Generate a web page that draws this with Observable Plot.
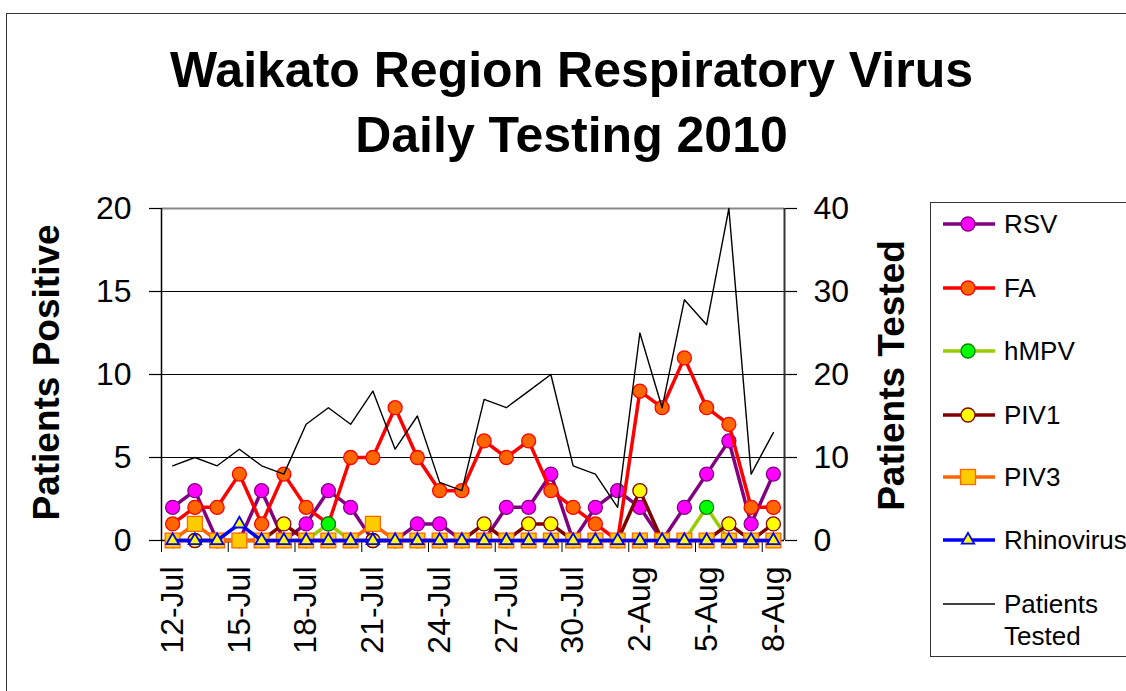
<!DOCTYPE html>
<html>
<head>
<meta charset="utf-8">
<script src="https://cdn.jsdelivr.net/npm/d3@7"></script>
<script src="https://cdn.jsdelivr.net/npm/@observablehq/plot@0.6"></script>
<style>
  html, body { margin: 0; padding: 0; background: #fff; overflow: hidden; }
  #wrap { position: relative; width: 1126px; height: 691px; overflow: hidden;
          font-family: "Liberation Sans", Arial, sans-serif; color: #000; }
  #frame { position: absolute; left: 6px; top: 13px; width: 1300px; height: 900px;
           border: 1.5px solid #333; box-sizing: border-box; }
  #title { position: absolute; left: 0; top: 38px; width: 1143px; text-align: center;
           font-weight: bold; font-size: 50px; line-height: 65px; }
  #chart { position: absolute; left: 0; top: 0; }
  #legend { position: absolute; left: 930px; top: 202px; width: 260px; height: 455px;
            border: 1px solid #333; box-sizing: border-box; background: #fff; }
  #legend svg { position: absolute; left: -1px; top: -1px; overflow: visible; }
</style>
</head>
<body>
<div id="wrap">
  <div id="frame"></div>
  <div id="title">Waikato Region Respiratory Virus<br>Daily Testing 2010</div>
  <div id="chart"></div>
  <div id="legend"></div>
</div>
<script>
// ---- data ----
const days = ["12-Jul","13-Jul","14-Jul","15-Jul","16-Jul","17-Jul","18-Jul","19-Jul","20-Jul","21-Jul",
              "22-Jul","23-Jul","24-Jul","25-Jul","26-Jul","27-Jul","28-Jul","29-Jul","30-Jul","31-Jul",
              "1-Aug","2-Aug","3-Aug","4-Aug","5-Aug","6-Aug","7-Aug","8-Aug"];
const labelDays = ["12-Jul","15-Jul","18-Jul","21-Jul","24-Jul","27-Jul","30-Jul","2-Aug","5-Aug","8-Aug"];
const seriesNames = ["RSV","FA","hMPV","PIV1","PIV3","Rhinovirus"];
const rsv   = [2,3,0,0,3,0,1,3,2,0,0,1,1,0,0,2,2,4,0,2,3,2,0,2,4,6,1,4];
const fa    = [1,2,2,4,1,4,2,1,5,5,8,5,3,3,6,5,6,3,2,1,0,9,8,11,8,7,2,2];
const hmpv  = [0,0,0,0,0,0,0,1,0,0,0,0,0,0,0,0,0,0,0,0,0,0,0,0,2,0,0,0];
const piv1  = [0,0,0,0,0,1,0,0,0,0,0,0,0,0,1,0,1,1,0,0,0,3,0,0,0,1,0,1];
const piv3  = [0,1,0,0,0,0,0,0,0,1,0,0,0,0,0,0,0,0,0,0,0,0,0,0,0,0,0,0];
const rhino = [0,0,0,1,0,0,0,0,0,0,0,0,0,0,0,0,0,0,0,0,0,0,0,0,0,0,0,0];
const tested = [9,10,9,11,9,8,14,16,14,18,11,15,7,6,17,16,18,20,9,8,4,25,16,29,26,40,8,13];
const leftTicks = [0,5,10,15,20];
const testedName = "Patients Tested";

// ---- styles ----
const styles = [
  {line: "#800080", fill: "#FF00FF", stroke: "#800080", symbol: "circle", r: 7},
  {line: "#FF0000", fill: "#FF6600", stroke: "#FF0000", symbol: "circle", r: 7},
  {line: "#99CC00", fill: "#00FF00", stroke: "#008000", symbol: "circle", r: 7},
  {line: "#800000", fill: "#FFFF00", stroke: "#800000", symbol: "circle", r: 7},
  {line: "#FF6600", fill: "#FFCC00", stroke: "#FF6600", symbol: "square", r: 8.4},
  {line: "#0000FF", fill: "#FFFF00", stroke: "#0000FF", symbol: "triangle", r: 4.6}
];
const seriesValues = [rsv, fa, hmpv, piv1, piv3, rhino];
const dayIndex = d => days.indexOf(d);

const seriesMarks = seriesValues.flatMap((vals, k) => {
  const data = vals.map((v, i) => ({day: days[i], v}));
  const s = styles[k];
  return [
    Plot.line(data, {x: d => dayIndex(d.day), y: "v", stroke: s.line, strokeWidth: 3.5}),
    Plot.dot(data, {x: d => dayIndex(d.day), y: "v", r: s.r, symbol: s.symbol, fill: s.fill,
                    stroke: s.stroke, strokeWidth: s.symbol === "triangle" ? 1.8 : 1.3})
  ];
});
const testedData = tested.map((t, i) => ({day: days[i], t}));

const chart = Plot.plot({
  width: 1126, height: 691,
  marginLeft: 161, marginRight: 342, marginTop: 208, marginBottom: 151,
  x: {type: "linear", domain: [-0.5, days.length - 0.5]},
  y: {domain: [0, 20]},
  style: {fontFamily: "'Liberation Sans', Arial, sans-serif", fontSize: "32px",
          color: "#000", background: "transparent", overflow: "visible"},
  marks: [
    Plot.ruleY([5, 10, 15], {stroke: "#000", strokeWidth: 1}),
    Plot.ruleY([20], {stroke: "#888", strokeWidth: 2}),
    Plot.axisY({anchor: "left", ticks: leftTicks, tickSize: 12, tickPadding: 18, label: null,
                stroke: "#000", strokeWidth: 1.2}),
    Plot.axisY({anchor: "right", ticks: leftTicks, tickFormat: d => d * 2, tickSize: 12,
                tickPadding: 17, label: null, stroke: "#000", strokeWidth: 1.2}),
    Plot.axisX({ticks: labelDays.map(dayIndex), tickFormat: i => days[i], tickSize: 0,
                tickRotate: -90, tickPadding: 26, label: null}),
    Plot.axisX({ticks: [-0.5, 2.5, 5.5, 8.5, 11.5, 14.5, 17.5, 20.5, 23.5, 26.5],
                tickFormat: () => "", tickSize: 12, label: null, stroke: "#000"}),
    Plot.ruleX([-0.5], {stroke: "#000", strokeWidth: 1.5}),
    Plot.ruleX([days.length - 0.5], {stroke: "#333", strokeWidth: 2}),
    Plot.ruleY([0], {stroke: "#000", strokeWidth: 1.5}),
    ...seriesMarks,
    Plot.line(testedData, {x: d => dayIndex(d.day), y: d => d.t / 2, stroke: "#000", strokeWidth: 1.4}),
    Plot.text(["Patients Positive"], {text: d => d, frameAnchor: "left", dx: -114, dy: -2, rotate: -90,
                textAnchor: "middle", fontSize: 37, fontWeight: "bold"}),
    Plot.text([testedName], {text: d => d, frameAnchor: "right", dx: 108, dy: 1, rotate: -90,
                textAnchor: "middle", fontSize: 37, fontWeight: "bold"})
  ]
});
document.getElementById("chart").appendChild(chart);

// ---- legend ----
const legendY = [22, 86, 149, 213, 275, 338];
const leg = d3.select("#legend").append("svg").attr("width", 260).attr("height", 455)
  .style("font-family", "'Liberation Sans', Arial, sans-serif").style("font-size", "26px");
seriesNames.forEach((name, k) => {
  const s = styles[k], y = legendY[k];
  leg.append("line").attr("x1", 13).attr("x2", 65).attr("y1", y).attr("y2", y)
    .attr("stroke", s.line).attr("stroke-width", 3.5);
  if (s.symbol === "circle") {
    leg.append("circle").attr("cx", 38).attr("cy", y).attr("r", 7)
      .attr("fill", s.fill).attr("stroke", s.stroke).attr("stroke-width", 1.3);
  } else if (s.symbol === "square") {
    leg.append("rect").attr("x", 38 - 7.5).attr("y", y - 7.5).attr("width", 15).attr("height", 15)
      .attr("fill", s.fill).attr("stroke", s.stroke).attr("stroke-width", 1.3);
  } else {
    leg.append("path").attr("transform", `translate(38,${y})`)
      .attr("d", d3.symbol(d3.symbolTriangle, Math.PI * s.r * s.r)())
      .attr("fill", s.fill).attr("stroke", s.stroke).attr("stroke-width", 1.8);
  }
  leg.append("text").attr("x", 74).attr("y", y).attr("dy", "0.36em").text(name);
});
leg.append("line").attr("x1", 13).attr("x2", 65).attr("y1", 402).attr("y2", 402)
  .attr("stroke", "#000").attr("stroke-width", 1.4);
const tt = leg.append("text").attr("x", 74).attr("y", 402).attr("dy", "0.36em");
tt.append("tspan").attr("x", 74).text(testedName.split(" ")[0]);
tt.append("tspan").attr("x", 74).attr("dy", "1.2em").text(testedName.split(" ")[1]);
</script>
</body>
</html>
